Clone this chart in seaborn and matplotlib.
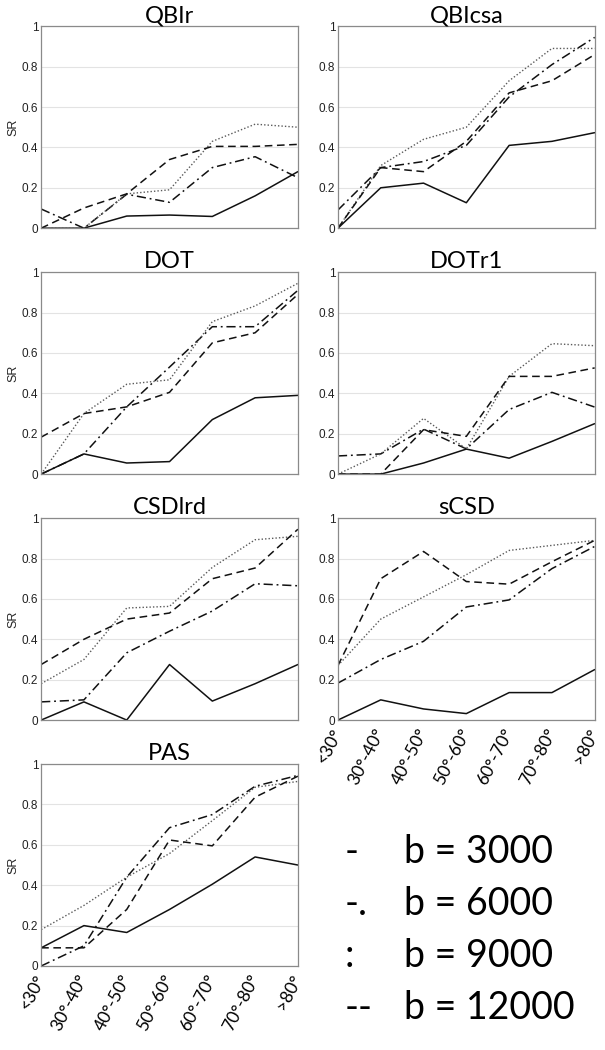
import numpy as np
import pandas as pd
import matplotlib
matplotlib.use("Agg")
import matplotlib.pyplot as plt
import seaborn as sns

sns.set_theme(style="white")
plt.rcParams['font.family'] = ['Liberation Sans', 'DejaVu Sans']

categories = ["<30°", "30°-40°", "40°-50°", "50°-60°", "60°-70°", "70°-80°", ">80°"]
series_names = ["b = 3000", "b = 6000", "b = 9000", "b = 12000"]
legend_marks = ["-", "-.", ":", "--"]
panel_titles = ["QBIr", "QBIcsa", "DOT", "DOTr1", "CSDlrd", "sCSD", "PAS"]

qbir_3000 = [0, 0, 0.06, 0.065, 0.058, 0.16, 0.28]
qbir_6000 = [0.095, 0, 0.168, 0.128, 0.30, 0.354, 0.25]
qbir_9000 = [0, 0, 0.17, 0.19, 0.43, 0.515, 0.50]
qbir_12000 = [0, 0.10, 0.17, 0.34, 0.405, 0.405, 0.415]

qbicsa_3000 = [0, 0.20, 0.223, 0.126, 0.41, 0.43, 0.473]
qbicsa_6000 = [0.09, 0.30, 0.33, 0.41, 0.65, 0.81, 0.945]
qbicsa_9000 = [0, 0.31, 0.44, 0.50, 0.73, 0.89, 0.89]
qbicsa_12000 = [0, 0.30, 0.28, 0.43, 0.67, 0.73, 0.86]

dot_3000 = [0, 0.10, 0.055, 0.062, 0.27, 0.378, 0.39]
dot_6000 = [0, 0.10, 0.333, 0.53, 0.73, 0.73, 0.91]
dot_9000 = [0, 0.30, 0.445, 0.467, 0.755, 0.833, 0.945]
dot_12000 = [0.183, 0.30, 0.333, 0.405, 0.65, 0.70, 0.89]

dotr1_3000 = [0, 0, 0.055, 0.124, 0.079, 0.162, 0.25]
dotr1_6000 = [0.09, 0.10, 0.223, 0.125, 0.32, 0.405, 0.332]
dotr1_9000 = [0, 0.10, 0.276, 0.125, 0.484, 0.646, 0.636]
dotr1_12000 = [0, 0, 0.22, 0.187, 0.484, 0.484, 0.526]

csdlrd_3000 = [0, 0.09, 0, 0.275, 0.094, 0.18, 0.275]
csdlrd_6000 = [0.09, 0.10, 0.333, 0.44, 0.54, 0.675, 0.665]
csdlrd_9000 = [0.18, 0.30, 0.555, 0.563, 0.756, 0.893, 0.91]
csdlrd_12000 = [0.275, 0.40, 0.50, 0.53, 0.70, 0.753, 0.945]

scsd_3000 = [0, 0.10, 0.055, 0.032, 0.136, 0.136, 0.25]
scsd_6000 = [0.183, 0.30, 0.39, 0.56, 0.595, 0.75, 0.86]
scsd_9000 = [0.27, 0.50, 0.61, 0.72, 0.84, 0.865, 0.89]
scsd_12000 = [0.27, 0.70, 0.835, 0.686, 0.673, 0.784, 0.89]

pas_3000 = [0.09, 0.20, 0.166, 0.28, 0.405, 0.54, 0.50]
pas_6000 = [0, 0.10, 0.44, 0.685, 0.75, 0.89, 0.944]
pas_9000 = [0.18, 0.30, 0.44, 0.557, 0.72, 0.885, 0.914]
pas_12000 = [0.09, 0.09, 0.28, 0.624, 0.595, 0.836, 0.94]

panels = [
    [qbir_3000, qbir_6000, qbir_9000, qbir_12000],
    [qbicsa_3000, qbicsa_6000, qbicsa_9000, qbicsa_12000],
    [dot_3000, dot_6000, dot_9000, dot_12000],
    [dotr1_3000, dotr1_6000, dotr1_9000, dotr1_12000],
    [csdlrd_3000, csdlrd_6000, csdlrd_9000, csdlrd_12000],
    [scsd_3000, scsd_6000, scsd_9000, scsd_12000],
    [pas_3000, pas_6000, pas_9000, pas_12000],
]

yticks = [0, 0.2, 0.4, 0.6, 0.8, 1]
ytick_labels = ["0", "0.2", "0.4", "0.6", "0.8", "1"]

line_styles = ["-", (0, (6, 2.5, 1.2, 2.5)), (0, (1, 1.5)), (0, (5, 3))]
line_colors = ["#111111", "#111111", "#5a5a5a", "#111111"]
line_widths = [1.1, 1.1, 1.0, 1.1]

fig, axes = plt.subplots(4, 2, figsize=(6.05, 10.5), dpi=100)
fig.subplots_adjust(left=0.068, right=0.983, top=0.975, bottom=0.08,
                    hspace=0.218, wspace=0.156)

x = np.arange(len(categories))
for i, (title, vals) in enumerate(zip(panel_titles, panels)):
    ax = axes.flat[i]
    for j, v in enumerate(vals):
        sns.lineplot(x=x, y=v, ax=ax, color=line_colors[j], linestyle=line_styles[j],
                     linewidth=line_widths[j], legend=False)
    ax.set_xlim(0, len(categories) - 1)
    ax.set_ylim(0, 1)
    ax.set_yticks(yticks)
    ax.set_yticklabels(ytick_labels, fontsize=8.5, color="#222222")
    ax.yaxis.grid(True, color="#e3e3e3", linewidth=0.8)
    ax.set_axisbelow(True)
    ax.set_xticks(x)
    for s in ax.spines.values():
        s.set_color("#8a8a8a")
        s.set_linewidth(0.9)
    ax.tick_params(axis="both", length=0, pad=2)
    ax.set_title(title, fontsize=17, family=["Lato", "DejaVu Sans"], pad=3,
                 color="black")
    if i % 2 == 0:
        ax.set_ylabel("SR", fontsize=9, labelpad=2)
    else:
        ax.set_ylabel("")
    if i in (5, 6):
        ax.set_xticklabels(categories, rotation=63, ha="right", va="center",
                           rotation_mode="anchor", fontsize=12.5,
                           family=["Lato", "DejaVu Sans"], color="black")
        ax.tick_params(axis="x", pad=7)
    else:
        ax.set_xticklabels([])

axes.flat[7].axis("off")

leg_y = [852, 904, 956, 1008]
for k, (mark, name) in enumerate(zip(legend_marks, series_names)):
    yf = 1 - leg_y[k] / 1050
    fig.text(345 / 605, yf, mark, fontsize=27, family=["Lato", "DejaVu Sans"],
             va="center", ha="left", color="black")
    fig.text(404 / 605, yf, name, fontsize=27, family=["Lato", "DejaVu Sans"],
             va="center", ha="left", color="black")

fig.savefig("out.png", dpi=100, facecolor="white")
